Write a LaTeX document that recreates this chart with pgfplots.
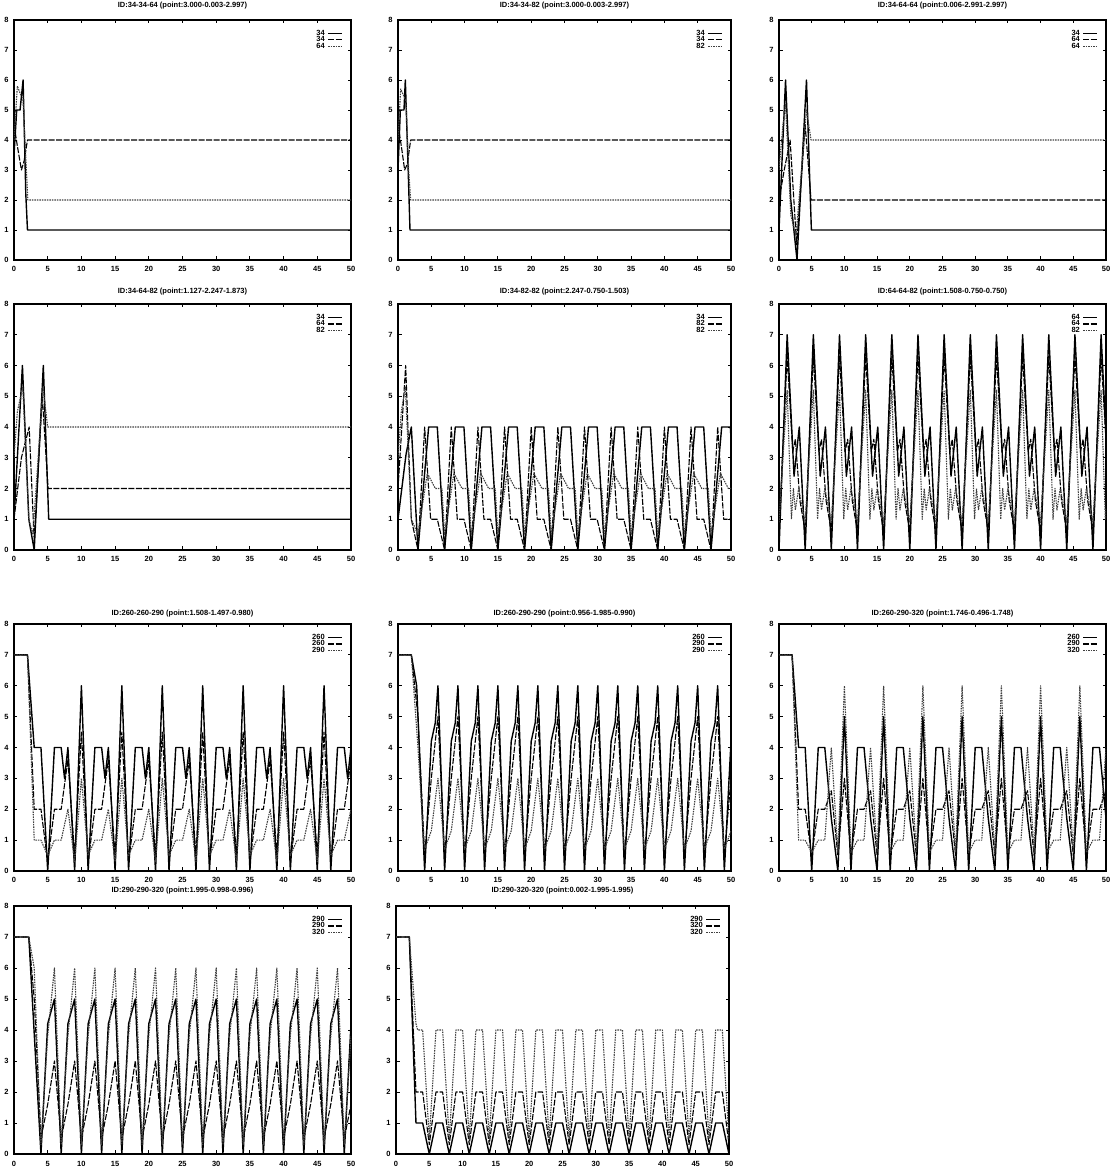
\documentclass[border=0pt]{standalone}
\usepackage{fontspec}
\setmainfont{Liberation Sans}
\usepackage{pgfplots}
\pgfplotsset{compat=1.18}

\pgfplotsset{
  gp/.style={
    scale only axis,
    anchor=south west,
    xmin=0, xmax=50, ymin=0, ymax=8,
    xtick={0,5,...,50}, ytick={0,1,...,8},
    tick align=inside,
    major tick length=3.5pt,
    tick style={black, line width=0.9pt},
    axis line style={line width=1.2pt},
    tick label style={font=\fontsize{7.5}{8}\selectfont\bfseries},
    /pgf/number format/assume math mode=true,
    xticklabel style={yshift=-3pt},
    yticklabel style={xshift=-2pt},
    title style={font=\fontsize{7.5}{8}\selectfont\bfseries, at={(0.5,1)}, anchor=base, inner sep=0pt},
    legend style={draw=none, fill=none, at={(0.985,0.97)}, anchor=north east,
      font=\fontsize{7.5}{8}\selectfont\bfseries, row sep=-1.5pt, column sep=2pt,
      nodes={inner sep=0.6pt}},
    legend cell align=right,
    legend plot pos=right,
    legend image code/.code={\draw[##1] (0pt,0pt) -- (14pt,0pt);},
  },
  s1/.style={black, line width=1.4pt, line join=round},
  s2/.style={black, line width=1.1pt, line join=round, dash pattern=on 6pt off 1.5pt},
  s3/.style={black!75, line width=1.1pt, line join=round, dash pattern=on 1.5pt off 1pt},
}

\begin{document}
\begin{tikzpicture}[x=1pt,y=1pt]
\path[use as bounding box] (0,0) rectangle (1114,1169);

% ---------- row 1 ----------
\begin{axis}[gp, at={(14pt,909pt)}, width=337pt, height=240pt,
  title={ID:34-34-64 (point:3.000-0.003-2.997)}, title style={yshift=6pt}]
\addplot[s1] coordinates {(0,3.5)(0.4,5)(0.9,5)(1.35,6)(1.75,2.2)(2,1)(50,1)};
\addplot[s2] coordinates {(0,4.5)(0.5,3.8)(1.1,3)(1.5,3.3)(2,4)(50,4)};
\addplot[s3] coordinates {(0,4)(0.5,5.8)(1,5.5)(1.3,5.5)(1.8,3.2)(2.05,2)(50,2)};
\legend{34,34,64}
\end{axis}

\begin{axis}[gp, at={(398pt,909pt)}, width=333pt, height=240pt,
  title={ID:34-34-82 (point:3.000-0.003-2.997)}, title style={yshift=6pt}]
\addplot[s1] coordinates {(0,3)(0.35,5)(0.9,5)(1.1,6)(1.5,3.2)(1.8,1)(50,1)};
\addplot[s2] coordinates {(0,4.5)(0.5,3.8)(1,3)(1.4,3.2)(1.9,4)(50,4)};
\addplot[s3] coordinates {(0,4)(0.4,5.7)(0.8,5.5)(1.2,5.3)(1.6,3)(1.9,2)(50,2)};
\legend{34,34,82}
\end{axis}

\begin{axis}[gp, at={(779pt,909pt)}, width=327pt, height=240pt,
  title={ID:34-64-64 (point:0.006-2.991-2.997)}, title style={yshift=6pt}]
\addplot[s1] coordinates {(0,1)(1,6)(1.8,2)(2.75,0)(4.2,6)(4.95,1)(50,1)};
\addplot[s2] coordinates {(0,2)(0.8,3)(1.7,4)(2.7,0.5)(4,4.5)(4.9,2)(50,2)};
\addplot[s3] coordinates {(0,3)(0.6,4.5)(1,5.2)(1.8,1.5)(2.6,0.8)(4.2,5)(4.9,4)(50,4)};
\legend{34,64,64}
\end{axis}

% ---------- row 2 ----------
\begin{axis}[gp, at={(14pt,619pt)}, width=337pt, height=246pt,
  title={ID:34-64-82 (point:1.127-2.247-1.873)}, title style={yshift=4.5pt}]
\addplot[s1] coordinates {(0,1)(1.25,6)(2.2,1)(3,0)(4.35,6)(5.15,1)(50,1)};
\addplot[s2] coordinates {(0,1)(1.1,3)(2.25,4)(3,0.3)(4.2,5)(5.05,2)(50,2)};
\addplot[s3] coordinates {(0,3)(0.5,4.5)(1.3,5.3)(2.2,1)(2.8,0.5)(4.3,5.3)(5,4)(50,4)};
\legend{34,64,82}
\end{axis}

\begin{axis}[gp, at={(398pt,619pt)}, width=333pt, height=246pt,
  title={ID:34-82-82 (point:2.247-0.750-1.503)}, title style={yshift=4.5pt}]
\addplot[s1] coordinates {(0,1)(1.2,3.1)(2,4)(3,0)(4.6,4)(5.9,4)(7,0)(8.6,4)(9.9,4)(11,0)(12.6,4)(13.9,4)(15,0)(16.6,4)(17.9,4)(19,0)(20.6,4)(21.9,4)(23,0)(24.6,4)(25.9,4)(27,0)(28.6,4)(29.9,4)(31,0)(32.6,4)(33.9,4)(35,0)(36.6,4)(37.9,4)(39,0)(40.6,4)(41.9,4)(43,0)(44.6,4)(45.9,4)(47,0)(48.6,4)(49.9,4)(50,3.64)};
\addplot[s2] coordinates {(0,2)(1.15,6)(2,1)(3,0)(4,4)(4.9,1)(5.9,1)(7,0)(8,4)(8.9,1)(9.9,1)(11,0)(12,4)(12.9,1)(13.9,1)(15,0)(16,4)(16.9,1)(17.9,1)(19,0)(20,4)(20.9,1)(21.9,1)(23,0)(24,4)(24.9,1)(25.9,1)(27,0)(28,4)(28.9,1)(29.9,1)(31,0)(32,4)(32.9,1)(33.9,1)(35,0)(36,4)(36.9,1)(37.9,1)(39,0)(40,4)(40.9,1)(41.9,1)(43,0)(44,4)(44.9,1)(45.9,1)(47,0)(48,4)(48.9,1)(49.9,1)(50,0.9)};
\addplot[s3] coordinates {(0,3)(0.5,4.5)(1.1,5.3)(2,1)(3,0.5)(4.4,2.5)(5.6,2)(6.6,2)(7,0.5)(8.4,2.5)(9.6,2)(10.6,2)(11,0.5)(12.4,2.5)(13.6,2)(14.6,2)(15,0.5)(16.4,2.5)(17.6,2)(18.6,2)(19,0.5)(20.4,2.5)(21.6,2)(22.6,2)(23,0.5)(24.4,2.5)(25.6,2)(26.6,2)(27,0.5)(28.4,2.5)(29.6,2)(30.6,2)(31,0.5)(32.4,2.5)(33.6,2)(34.6,2)(35,0.5)(36.4,2.5)(37.6,2)(38.6,2)(39,0.5)(40.4,2.5)(41.6,2)(42.6,2)(43,0.5)(44.4,2.5)(45.6,2)(46.6,2)(47,0.5)(48.4,2.5)(49.6,2)(50,2)};
\legend{34,82,82}
\end{axis}

\begin{axis}[gp, at={(779pt,619pt)}, width=327pt, height=246pt,
  title={ID:64-64-82 (point:1.508-0.750-0.750)}, title style={yshift=4.5pt}]
\addplot[s1] coordinates {(0,0)(1.25,7)(2.3,2.4)(3.1,4)(4,0)(5.25,7)(6.3,2.4)(7.1,4)(8,0)(9.25,7)(10.3,2.4)(11.1,4)(12,0)(13.25,7)(14.3,2.4)(15.1,4)(16,0)(17.25,7)(18.3,2.4)(19.1,4)(20,0)(21.25,7)(22.3,2.4)(23.1,4)(24,0)(25.25,7)(26.3,2.4)(27.1,4)(28,0)(29.25,7)(30.3,2.4)(31.1,4)(32,0)(33.25,7)(34.3,2.4)(35.1,4)(36,0)(37.25,7)(38.3,2.4)(39.1,4)(40,0)(41.25,7)(42.3,2.4)(43.1,4)(44,0)(45.25,7)(46.3,2.4)(47.1,4)(48,0)(49.25,7)(50,3.71)};
\addplot[s2] coordinates {(0,0.6)(1.25,6.3)(2.1,3.2)(2.5,3.6)(3.2,1.6)(4,0.6)(5.25,6.3)(6.1,3.2)(6.5,3.6)(7.2,1.6)(8,0.6)(9.25,6.3)(10.1,3.2)(10.5,3.6)(11.2,1.6)(12,0.6)(13.25,6.3)(14.1,3.2)(14.5,3.6)(15.2,1.6)(16,0.6)(17.25,6.3)(18.1,3.2)(18.5,3.6)(19.2,1.6)(20,0.6)(21.25,6.3)(22.1,3.2)(22.5,3.6)(23.2,1.6)(24,0.6)(25.25,6.3)(26.1,3.2)(26.5,3.6)(27.2,1.6)(28,0.6)(29.25,6.3)(30.1,3.2)(30.5,3.6)(31.2,1.6)(32,0.6)(33.25,6.3)(34.1,3.2)(34.5,3.6)(35.2,1.6)(36,0.6)(37.25,6.3)(38.1,3.2)(38.5,3.6)(39.2,1.6)(40,0.6)(41.25,6.3)(42.1,3.2)(42.5,3.6)(43.2,1.6)(44,0.6)(45.25,6.3)(46.1,3.2)(46.5,3.6)(47.2,1.6)(48,0.6)(49.25,6.3)(50,3.56)};
\addplot[s3] coordinates {(0,0.9)(1.25,5.2)(1.9,1)(2.2,2)(2.5,1.3)(3,2)(4,0.9)(5.25,5.2)(5.9,1)(6.2,2)(6.5,1.3)(7,2)(8,0.9)(9.25,5.2)(9.9,1)(10.2,2)(10.5,1.3)(11,2)(12,0.9)(13.25,5.2)(13.9,1)(14.2,2)(14.5,1.3)(15,2)(16,0.9)(17.25,5.2)(17.9,1)(18.2,2)(18.5,1.3)(19,2)(20,0.9)(21.25,5.2)(21.9,1)(22.2,2)(22.5,1.3)(23,2)(24,0.9)(25.25,5.2)(25.9,1)(26.2,2)(26.5,1.3)(27,2)(28,0.9)(29.25,5.2)(29.9,1)(30.2,2)(30.5,1.3)(31,2)(32,0.9)(33.25,5.2)(33.9,1)(34.2,2)(34.5,1.3)(35,2)(36,0.9)(37.25,5.2)(37.9,1)(38.2,2)(38.5,1.3)(39,2)(40,0.9)(41.25,5.2)(41.9,1)(42.2,2)(42.5,1.3)(43,2)(44,0.9)(45.25,5.2)(45.9,1)(46.2,2)(46.5,1.3)(47,2)(48,0.9)(49.25,5.2)(49.9,1)(50,1.33)};
\legend{64,64,82}
\end{axis}

% ---------- row 3 ----------
\begin{axis}[gp, at={(14pt,298pt)}, width=337pt, height=247pt,
  title={ID:260-260-290 (point:1.508-1.497-0.980)}, title style={yshift=2.5pt}]
\addplot[s1] coordinates {(0,7)(2,7)(3,4)(4,4)(5,0)(6,4)(7,4)(7.5,3)(8,4)(9,0)(10,6)(11,0)(12,4)(13,4)(13.5,3)(14,4)(15,0)(16,6)(17,0)(18,4)(19,4)(19.5,3)(20,4)(21,0)(22,6)(23,0)(24,4)(25,4)(25.5,3)(26,4)(27,0)(28,6)(29,0)(30,4)(31,4)(31.5,3)(32,4)(33,0)(34,6)(35,0)(36,4)(37,4)(37.5,3)(38,4)(39,0)(40,6)(41,0)(42,4)(43,4)(43.5,3)(44,4)(45,0)(46,6)(47,0)(48,4)(49,4)(49.5,3)(50,4)};
\addplot[s2] coordinates {(0,7)(2,7)(3,2)(4,2)(5,0.3)(6,2)(7,2)(8,3.6)(9,0.5)(10,4.5)(11,0.3)(12,2)(13,2)(14,3.6)(15,0.5)(16,4.5)(17,0.3)(18,2)(19,2)(20,3.6)(21,0.5)(22,4.5)(23,0.3)(24,2)(25,2)(26,3.6)(27,0.5)(28,4.5)(29,0.3)(30,2)(31,2)(32,3.6)(33,0.5)(34,4.5)(35,0.3)(36,2)(37,2)(38,3.6)(39,0.5)(40,4.5)(41,0.3)(42,2)(43,2)(44,3.6)(45,0.5)(46,4.5)(47,0.3)(48,2)(49,2)(50,3.6)};
\addplot[s3] coordinates {(0,7)(2,7)(3,1)(4,1)(5,0.5)(6,1)(7,1)(8,2)(9,0.3)(10,3)(11,0.5)(12,1)(13,1)(14,2)(15,0.3)(16,3)(17,0.5)(18,1)(19,1)(20,2)(21,0.3)(22,3)(23,0.5)(24,1)(25,1)(26,2)(27,0.3)(28,3)(29,0.5)(30,1)(31,1)(32,2)(33,0.3)(34,3)(35,0.5)(36,1)(37,1)(38,2)(39,0.3)(40,3)(41,0.5)(42,1)(43,1)(44,2)(45,0.3)(46,3)(47,0.5)(48,1)(49,1)(50,2)};
\legend{260,260,290}
\end{axis}

\begin{axis}[gp, at={(398pt,298pt)}, width=333pt, height=247pt,
  title={ID:260-290-290 (point:0.956-1.985-0.990)}, title style={yshift=2.5pt}]
\addplot[s1] coordinates {(0,7)(2,7)(2.8,6)(4,0)(5,4.2)(5.6,4.8)(6,6)(7,0)(8,4.2)(8.6,4.8)(9,6)(10,0)(11,4.2)(11.6,4.8)(12,6)(13,0)(14,4.2)(14.6,4.8)(15,6)(16,0)(17,4.2)(17.6,4.8)(18,6)(19,0)(20,4.2)(20.6,4.8)(21,6)(22,0)(23,4.2)(23.6,4.8)(24,6)(25,0)(26,4.2)(26.6,4.8)(27,6)(28,0)(29,4.2)(29.6,4.8)(30,6)(31,0)(32,4.2)(32.6,4.8)(33,6)(34,0)(35,4.2)(35.6,4.8)(36,6)(37,0)(38,4.2)(38.6,4.8)(39,6)(40,0)(41,4.2)(41.6,4.8)(42,6)(43,0)(44,4.2)(44.6,4.8)(45,6)(46,0)(47,4.2)(47.6,4.8)(48,6)(49,0)(50,4.2)};
\addplot[s2] coordinates {(0,7)(2,7)(3,5)(4,0.5)(5,3)(6,5)(7,0.5)(8,3)(9,5)(10,0.5)(11,3)(12,5)(13,0.5)(14,3)(15,5)(16,0.5)(17,3)(18,5)(19,0.5)(20,3)(21,5)(22,0.5)(23,3)(24,5)(25,0.5)(26,3)(27,5)(28,0.5)(29,3)(30,5)(31,0.5)(32,3)(33,5)(34,0.5)(35,3)(36,5)(37,0.5)(38,3)(39,5)(40,0.5)(41,3)(42,5)(43,0.5)(44,3)(45,5)(46,0.5)(47,3)(48,5)(49,0.5)(50,3)};
\addplot[s3] coordinates {(0,7)(2,7)(3,4)(3.7,1.5)(4,0.7)(5,1.3)(6,3)(7,0.7)(8,1.3)(9,3)(10,0.7)(11,1.3)(12,3)(13,0.7)(14,1.3)(15,3)(16,0.7)(17,1.3)(18,3)(19,0.7)(20,1.3)(21,3)(22,0.7)(23,1.3)(24,3)(25,0.7)(26,1.3)(27,3)(28,0.7)(29,1.3)(30,3)(31,0.7)(32,1.3)(33,3)(34,0.7)(35,1.3)(36,3)(37,0.7)(38,1.3)(39,3)(40,0.7)(41,1.3)(42,3)(43,0.7)(44,1.3)(45,3)(46,0.7)(47,1.3)(48,3)(49,0.7)(50,1.3)};
\legend{260,290,290}
\end{axis}

\begin{axis}[gp, at={(779pt,298pt)}, width=327pt, height=247pt,
  title={ID:260-290-320 (point:1.746-0.496-1.748)}, title style={yshift=2.5pt}]
\addplot[s1] coordinates {(0,7)(2,7)(3,4)(4,4)(5,0)(6,4)(7,4)(8,1.7)(9,0)(10,5)(11,0)(12,4)(13,4)(14,1.7)(15,0)(16,5)(17,0)(18,4)(19,4)(20,1.7)(21,0)(22,5)(23,0)(24,4)(25,4)(26,1.7)(27,0)(28,5)(29,0)(30,4)(31,4)(32,1.7)(33,0)(34,5)(35,0)(36,4)(37,4)(38,1.7)(39,0)(40,5)(41,0)(42,4)(43,4)(44,1.7)(45,0)(46,5)(47,0)(48,4)(49,4)(50,1.7)};
\addplot[s2] coordinates {(0,7)(2,7)(3,2)(4,2)(5,0.5)(6,2)(7,2)(8,2.6)(9,0.5)(10,3)(11,0.5)(12,2)(13,2)(14,2.6)(15,0.5)(16,3)(17,0.5)(18,2)(19,2)(20,2.6)(21,0.5)(22,3)(23,0.5)(24,2)(25,2)(26,2.6)(27,0.5)(28,3)(29,0.5)(30,2)(31,2)(32,2.6)(33,0.5)(34,3)(35,0.5)(36,2)(37,2)(38,2.6)(39,0.5)(40,3)(41,0.5)(42,2)(43,2)(44,2.6)(45,0.5)(46,3)(47,0.5)(48,2)(49,2)(50,2.6)};
\addplot[s3] coordinates {(0,7)(2,7)(3,1)(4,1)(5,0.6)(6,1)(7,1)(8,4)(9,0.6)(10,6)(11,0.6)(12,1)(13,1)(14,4)(15,0.6)(16,6)(17,0.6)(18,1)(19,1)(20,4)(21,0.6)(22,6)(23,0.6)(24,1)(25,1)(26,4)(27,0.6)(28,6)(29,0.6)(30,1)(31,1)(32,4)(33,0.6)(34,6)(35,0.6)(36,1)(37,1)(38,4)(39,0.6)(40,6)(41,0.6)(42,1)(43,1)(44,4)(45,0.6)(46,6)(47,0.6)(48,1)(49,1)(50,4)};
\legend{260,290,320}
\end{axis}

% ---------- row 4 ----------
\begin{axis}[gp, at={(14pt,15pt)}, width=337pt, height=248pt,
  xticklabel style={yshift=-1pt},
  title={ID:290-290-320 (point:1.995-0.998-0.996)}, title style={yshift=7.5pt}]
\addplot[s1] coordinates {(0,7)(2.2,7)(4,0)(5,4.2)(6,5)(7,0)(8,4.2)(9,5)(10,0)(11,4.2)(12,5)(13,0)(14,4.2)(15,5)(16,0)(17,4.2)(18,5)(19,0)(20,4.2)(21,5)(22,0)(23,4.2)(24,5)(25,0)(26,4.2)(27,5)(28,0)(29,4.2)(30,5)(31,0)(32,4.2)(33,5)(34,0)(35,4.2)(36,5)(37,0)(38,4.2)(39,5)(40,0)(41,4.2)(42,5)(43,0)(44,4.2)(45,5)(46,0)(47,4.2)(48,5)(49,0)(50,4.2)};
\addplot[s2] coordinates {(0,7)(2.2,7)(3,5)(4,0.5)(5,1.6)(6,3)(7,0.5)(8,1.6)(9,3)(10,0.5)(11,1.6)(12,3)(13,0.5)(14,1.6)(15,3)(16,0.5)(17,1.6)(18,3)(19,0.5)(20,1.6)(21,3)(22,0.5)(23,1.6)(24,3)(25,0.5)(26,1.6)(27,3)(28,0.5)(29,1.6)(30,3)(31,0.5)(32,1.6)(33,3)(34,0.5)(35,1.6)(36,3)(37,0.5)(38,1.6)(39,3)(40,0.5)(41,1.6)(42,3)(43,0.5)(44,1.6)(45,3)(46,0.5)(47,1.6)(48,3)(49,0.5)(50,1.6)};
\addplot[s3] coordinates {(0,7)(2.2,7)(3,6)(4,0.3)(5,3.8)(6,6)(7,0.3)(8,3.8)(9,6)(10,0.3)(11,3.8)(12,6)(13,0.3)(14,3.8)(15,6)(16,0.3)(17,3.8)(18,6)(19,0.3)(20,3.8)(21,6)(22,0.3)(23,3.8)(24,6)(25,0.3)(26,3.8)(27,6)(28,0.3)(29,3.8)(30,6)(31,0.3)(32,3.8)(33,6)(34,0.3)(35,3.8)(36,6)(37,0.3)(38,3.8)(39,6)(40,0.3)(41,3.8)(42,6)(43,0.3)(44,3.8)(45,6)(46,0.3)(47,3.8)(48,6)(49,0.3)(50,3.8)};
\legend{290,290,320}
\end{axis}

\begin{axis}[gp, at={(396pt,15pt)}, width=333pt, height=248pt,
  xticklabel style={yshift=-1pt},
  title={ID:290-320-320 (point:0.002-1.995-1.995)}, title style={yshift=7.5pt}]
\addplot[s1] coordinates {(0,7)(2,7)(3,1)(4,1)(5,0)(6,1)(7,1)(8,0)(9,1)(10,1)(11,0)(12,1)(13,1)(14,0)(15,1)(16,1)(17,0)(18,1)(19,1)(20,0)(21,1)(22,1)(23,0)(24,1)(25,1)(26,0)(27,1)(28,1)(29,0)(30,1)(31,1)(32,0)(33,1)(34,1)(35,0)(36,1)(37,1)(38,0)(39,1)(40,1)(41,0)(42,1)(43,1)(44,0)(45,1)(46,1)(47,0)(48,1)(49,1)(50,0)};
\addplot[s2] coordinates {(0,7)(2,7)(3,2)(4,2)(5,0.3)(6,2)(7,2)(8,0.3)(9,2)(10,2)(11,0.3)(12,2)(13,2)(14,0.3)(15,2)(16,2)(17,0.3)(18,2)(19,2)(20,0.3)(21,2)(22,2)(23,0.3)(24,2)(25,2)(26,0.3)(27,2)(28,2)(29,0.3)(30,2)(31,2)(32,0.3)(33,2)(34,2)(35,0.3)(36,2)(37,2)(38,0.3)(39,2)(40,2)(41,0.3)(42,2)(43,2)(44,0.3)(45,2)(46,2)(47,0.3)(48,2)(49,2)(50,0.3)};
\addplot[s3] coordinates {(0,7)(2,7)(3,4.2)(3.25,4)(4,4)(5,0.5)(6,4)(7,4)(8,0.5)(9,4)(10,4)(11,0.5)(12,4)(13,4)(14,0.5)(15,4)(16,4)(17,0.5)(18,4)(19,4)(20,0.5)(21,4)(22,4)(23,0.5)(24,4)(25,4)(26,0.5)(27,4)(28,4)(29,0.5)(30,4)(31,4)(32,0.5)(33,4)(34,4)(35,0.5)(36,4)(37,4)(38,0.5)(39,4)(40,4)(41,0.5)(42,4)(43,4)(44,0.5)(45,4)(46,4)(47,0.5)(48,4)(49,4)(50,0.5)};
\legend{290,320,320}
\end{axis}

\end{tikzpicture}
\end{document}
